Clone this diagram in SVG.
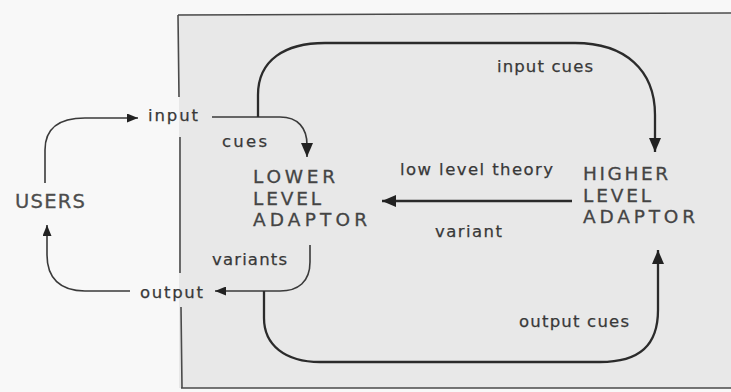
<svg xmlns="http://www.w3.org/2000/svg" width="731" height="392" viewBox="0 0 731 392">
<defs>
<style>
.bg{fill:#f8f8f8}
.panel{fill:#e8e8e8}
.edge{fill:none;stroke:#4a4a4a;stroke-width:1.6}
.big{fill:none;stroke:#2b2b2b;stroke-width:2.3}
.small{fill:none;stroke:#3a3a3a;stroke-width:1.6}
.lbl{font-family:"DejaVu Sans","Noto Sans",sans-serif;font-size:16.5px;fill:#383838;stroke:#383838;stroke-width:0.25}
.node{font-family:"DejaVu Sans","Noto Sans",sans-serif;font-size:18.5px;fill:#444;stroke:#444;stroke-width:0.3}
.users{font-family:"DejaVu Sans","Noto Sans",sans-serif;font-size:19.5px;fill:#4d4d4d;stroke:#4d4d4d;stroke-width:0.3}
</style>
<marker id="ab" viewBox="0 0 14 12" refX="14" refY="6" markerWidth="14" markerHeight="12" markerUnits="userSpaceOnUse" orient="auto">
<path d="M0,0 L14,6 L0,12 Z" fill="#222"/>
</marker>
<marker id="as" viewBox="0 0 11 9" refX="11" refY="4.5" markerWidth="11" markerHeight="9" markerUnits="userSpaceOnUse" orient="auto">
<path d="M0,0 L11,4.5 L0,9 Z" fill="#222"/>
</marker>
</defs>
<rect class="bg" x="0" y="0" width="731" height="392"/>
<g id="panel">
<rect class="panel" x="179" y="14" width="552" height="374"/>
<path class="edge" d="M178,15 L731,13"/>
<path class="edge" d="M181,388 L731,388"/>
<path class="edge" d="M178,15 L179,97 M180,137 L180,273 M181,307 L182,388"/>
</g>
<g id="connectors">
<path class="small" d="M45,183 L45,150 C45,129 58,118 85,118 L138,118" marker-end="url(#as)"/>
<path class="small" d="M130,291 L85,291 C60,291 47,278 47,255 L47,225" marker-end="url(#as)"/>
<path class="small" d="M212,117 L280,117 C298,117 307,128 307,145 L307,157" marker-end="url(#ab)"/>
<path class="big" d="M258,117 L258,95 C258,60 285,43 325,43 L575,43 C625,43 655,70 655,115 L655,152" marker-end="url(#ab)"/>
<path class="big" d="M572,201 L382,201" marker-end="url(#ab)"/>
<path class="small" d="M310,245 L310,262 C310,282 298,291 280,291 L215,291" marker-end="url(#as)"/>
<path class="big" d="M264,291 L264,318 C264,345 285,362 320,362 L600,362 C640,362 658,345 658,310 L658,250" marker-end="url(#ab)"/>
</g>
<g id="users"><text class="users" x="15" y="208" textLength="70" lengthAdjust="spacing">USERS</text></g>
<g id="lower-level-adaptor">
<text class="node" x="253" y="183" textLength="82" lengthAdjust="spacing">LOWER</text>
<text class="node" x="253" y="205" textLength="68" lengthAdjust="spacing">LEVEL</text>
<text class="node" x="253" y="226" textLength="114" lengthAdjust="spacing">ADAPTOR</text>
</g>
<g id="higher-level-adaptor">
<text class="node" x="583" y="180" textLength="85" lengthAdjust="spacing">HIGHER</text>
<text class="node" x="583" y="202" textLength="68" lengthAdjust="spacing">LEVEL</text>
<text class="node" x="583" y="223" textLength="112" lengthAdjust="spacing">ADAPTOR</text>
</g>
<g id="labels">
<text class="lbl" x="148" y="121" textLength="50" lengthAdjust="spacing">input</text>
<text class="lbl" x="222" y="147" textLength="45" lengthAdjust="spacing">cues</text>
<text class="lbl" x="497" y="72" textLength="96" lengthAdjust="spacing">input cues</text>
<text class="lbl" x="400" y="175" textLength="153" lengthAdjust="spacing">low level theory</text>
<text class="lbl" x="435" y="237" textLength="67" lengthAdjust="spacing">variant</text>
<text class="lbl" x="212" y="265" textLength="75" lengthAdjust="spacing">variants</text>
<text class="lbl" x="140" y="298" textLength="63" lengthAdjust="spacing">output</text>
<text class="lbl" x="519" y="327" textLength="110" lengthAdjust="spacing">output cues</text>
</g>
</svg>
